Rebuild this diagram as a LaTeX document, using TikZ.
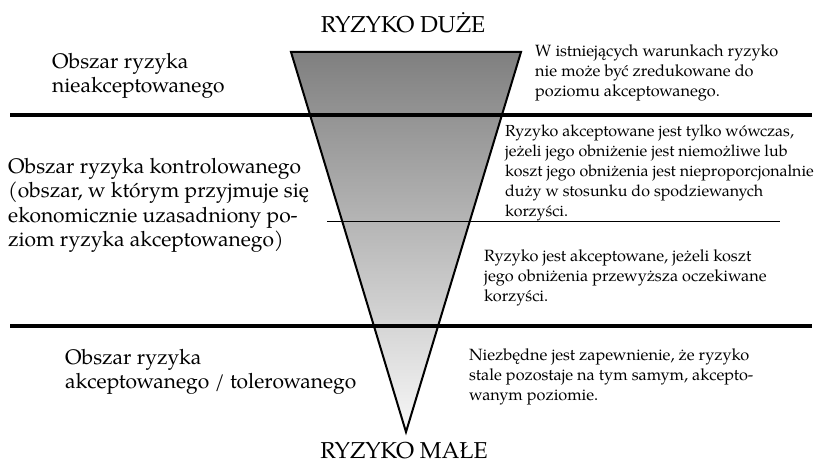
\documentclass[tikz,border=0pt]{standalone}
\usepackage{fontspec}
\setmainfont{texgyrepagella-regular.otf}
\begin{document}
\begin{tikzpicture}[x=1pt,y=-1pt,
  lefttext/.style={anchor=north west,inner sep=0pt,align=left,font=\fontsize{21}{24.5}\selectfont},
  righttext/.style={anchor=north west,inner sep=0pt,align=left,font=\fontsize{16.3}{20}\selectfont},
  righttextsmall/.style={righttext,font=\fontsize{16}{20}\selectfont},
  titletext/.style={anchor=base,inner sep=0pt,font=\fontsize{23}{27}\selectfont},
  thickrule/.style={line width=3.5pt},
  thinrule/.style={line width=1pt}]
\useasboundingbox (0,0) rectangle (815,465);
% triangle
\coordinate (tl) at (291,52);
\coordinate (tr) at (521,52);
\coordinate (ap) at (406,432);
\shade[top color=black!50, bottom color=black!3] (tl) -- (tr) -- (ap) -- cycle;
\draw[line width=2pt, line join=miter] (tl) -- (tr) -- (ap) -- cycle;
% rules
\coordinate (r1a) at (10,115); \coordinate (r1b) at (812,115);
\coordinate (r2a) at (10,326); \coordinate (r2b) at (812,326);
\coordinate (r3a) at (327,222); \coordinate (r3b) at (780,222);
\draw[thickrule] (r1a) -- (r1b);
\draw[thickrule] (r2a) -- (r2b);
\draw[thinrule] (r3a) -- (r3b);
% titles
\node[titletext] (top) at (403,33) {RYZYKO DUŻE};
\node[titletext] (bot) at (404,458) {RYZYKO MAŁE};
% left texts
\node[lefttext] (l1) at (52,53) {Obszar ryzyka\\nieakceptowanego};
\node[lefttext] (l2) at (8,158) {Obszar ryzyka kontrolowanego\\(obszar, w którym przyjmuje się\\ekonomicznie uzasadniony po-\\ziom ryzyka akceptowanego)};
\node[lefttext] (l3) at (65,349) {Obszar ryzyka\\akceptowanego / tolerowanego};
% right texts
\node[righttext] (ra) at (535,44) {W istniejących warunkach ryzyko\\nie może być zredukowane do\\poziomu akceptowanego.};
\node[righttextsmall] (rb) at (505,125) {Ryzyko akceptowane jest tylko wówczas,\\jeżeli jego obniżenie jest niemożliwe lub\\koszt jego obniżenia jest nieproporcjonalnie\\duży w stosunku do spodziewanych\\korzyści.};
\node[righttext] (rc) at (484,249) {Ryzyko jest akceptowane, jeżeli koszt\\jego obniżenia przewyższa oczekiwane\\korzyści.};
\node[righttext] (rd) at (469,348) {Niezbędne jest zapewnienie, że ryzyko\\stale pozostaje na tym samym, akcepto-\\wanym poziomie.};
\end{tikzpicture}
\end{document}
